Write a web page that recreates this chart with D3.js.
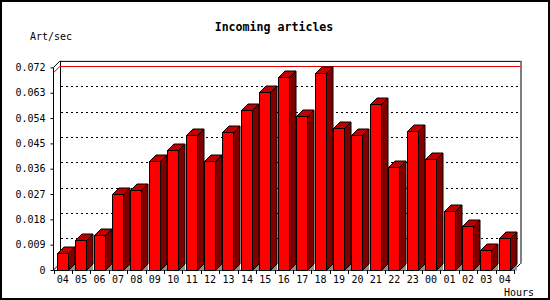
<!DOCTYPE html>
<html><head><meta charset="utf-8">
<script src="https://cdn.jsdelivr.net/npm/d3@7"></script>
<style>
body{margin:0;background:#fff;}
svg{display:block;}
text{font-family:"DejaVu Sans Mono","Liberation Mono",monospace;fill:#000;}
</style></head>
<body>
<script>
const categories = ["04","05","06","07","08","09","10","11","12","13","14","15","16","17","18","19","20","21","22","23","00","01","02","03","04"];
const values = [0.0059,0.0106,0.0124,0.0270,0.0284,0.0387,0.0426,0.0478,0.0387,0.0490,0.0570,0.0634,0.0687,0.0549,0.0701,0.0506,0.0481,0.0591,0.0367,0.0493,0.0396,0.0208,0.0157,0.0070,0.0112];
const yTickValues = [0,0.009,0.018,0.027,0.036,0.045,0.054,0.063,0.072];
const yTickLabels = ["0","0.009","0.018","0.027","0.036","0.045","0.054","0.063","0.072"];
const title = "Incoming articles";
const yTitle = "Art/sec";
const xTitle = "Hours";

const W=550,H=300;
const X0=53.5, X1=514, Y0=270, Y1=67.4, D=6.5;
const svg=d3.select("body").append("svg").attr("width",W).attr("height",H);
svg.append("rect").attr("x",0).attr("y",0).attr("width",W).attr("height",H).attr("fill","#fff");

const keys=categories.map((c,i)=>i);
const x=d3.scaleBand().domain(keys).range([X0,X1]).padding(0);
const y=d3.scaleLinear().domain([0,0.072]).range([Y0,Y1]);
const step=x.step();
const bw=11, boff=3.2;

// back plane
const bx0=X0+D, bx1=X1+D;
const topY=y(0.072);
svg.append("line").attr("x1",bx0).attr("x2",bx1).attr("y1",topY-D+0.5).attr("y2",topY-D+0.5).attr("stroke","#000");
svg.append("line").attr("x1",bx0+0.5).attr("x2",bx0+0.5).attr("y1",topY-D).attr("y2",Y0-D).attr("stroke","#000");
svg.append("line").attr("x1",bx1+0.5).attr("x2",bx1+0.5).attr("y1",topY-D).attr("y2",Y0-D).attr("stroke","#000");
svg.append("line").attr("x1",X0).attr("x2",bx0).attr("y1",topY).attr("y2",topY-D).attr("stroke","#000");
svg.append("line").attr("x1",X0).attr("x2",bx0).attr("y1",Y0).attr("y2",Y0-D).attr("stroke","#000");
svg.append("line").attr("x1",X1).attr("x2",bx1).attr("y1",Y0).attr("y2",Y0-D).attr("stroke","#000");

// gridlines
svg.append("g").selectAll("line").data(yTickValues.filter(v=>v>0&&v<0.072)).join("line")
  .attr("x1",bx0+1).attr("x2",bx1).attr("y1",d=>Math.round(y(d)-D)+0.5).attr("y2",d=>Math.round(y(d)-D)+0.5)
  .attr("stroke","#000").attr("stroke-dasharray","2,3");

// max line (red)
const vmax=d3.max(values);
svg.append("line").attr("x1",bx0).attr("x2",bx1).attr("y1",Math.round(y(vmax)-D)+0.5).attr("y2",Math.round(y(vmax)-D)+0.5).attr("stroke","#e00000");
svg.append("line").attr("x1",X0).attr("x2",bx0).attr("y1",y(vmax)).attr("y2",y(vmax)-D).attr("stroke","#e00000");

// front axes
svg.append("line").attr("x1",X0).attr("x2",X0).attr("y1",topY).attr("y2",Y0).attr("stroke","#000");
svg.append("line").attr("x1",X0).attr("x2",X1).attr("y1",Y0+0.5).attr("y2",Y0+0.5).attr("stroke","#000");

// bars
const bars=svg.append("g").selectAll("g").data(values).join("g");
bars.each(function(v,i){
  const g=d3.select(this);
  const xl=Math.round(x(i)+boff)+0.5, xr=xl+bw, yt=Math.round(y(v))+0.5, yb=Y0+0.5;
  g.append("path").attr("d",`M${xr},${yb}L${xr+D},${yb-D}L${xr+D},${yb}Z`).attr("fill","#909090");
  g.append("path").attr("d",`M${xr},${yt}L${xr+D},${yt-D}L${xr+D},${yb-D}L${xr},${yb}Z`).attr("fill","#800000").attr("stroke","#000");
  g.append("path").attr("d",`M${xl},${yt}L${xl+D},${yt-D}L${xr+D},${yt-D}L${xr},${yt}Z`).attr("fill","#c00000").attr("stroke","#000");
  g.append("rect").attr("x",xl).attr("y",yt).attr("width",bw).attr("height",yb-yt).attr("fill","#ff0000").attr("stroke","#000");
});

// x boundary ticks
svg.append("g").selectAll("line").data(d3.range(categories.length+1)).join("line")
  .attr("x1",i=>Math.round(X0+i*step)+0.5).attr("x2",i=>Math.round(X0+i*step)+0.5)
  .attr("y1",Y0).attr("y2",Y0+4).attr("stroke","#000");

// y axis labels
const ya=svg.append("g").attr("transform",`translate(${X0},0)`)
  .call(d3.axisLeft(y).tickValues(yTickValues).tickFormat((d,i)=>yTickLabels[i]).tickSize(3).tickPadding(5));
ya.select(".domain").remove();
ya.selectAll(".tick line").attr("stroke","#000");
ya.selectAll("text").attr("font-size","10px").attr("font-family","DejaVu Sans Mono");

// x axis labels
const xa=svg.append("g").attr("transform",`translate(0,${Y0})`)
  .call(d3.axisBottom(x).tickFormat(i=>categories[i]).tickSize(0).tickPadding(6));
xa.select(".domain").remove();
xa.selectAll("text").attr("font-size","10px").attr("font-family","DejaVu Sans Mono");

// titles
svg.append("text").attr("x",274).attr("y",31).attr("text-anchor","middle").attr("font-size","11.6px").attr("font-weight","bold").text(title);
svg.append("text").attr("x",30).attr("y",40).attr("font-size","10px").text(yTitle);
svg.append("text").attr("x",534).attr("y",296).attr("text-anchor","end").attr("font-size","10px").text(xTitle);

// border
svg.append("rect").attr("x",1).attr("y",1).attr("width",W-2).attr("height",H-2).attr("fill","none").attr("stroke","#000").attr("stroke-width",2);
</script>
</body></html>
